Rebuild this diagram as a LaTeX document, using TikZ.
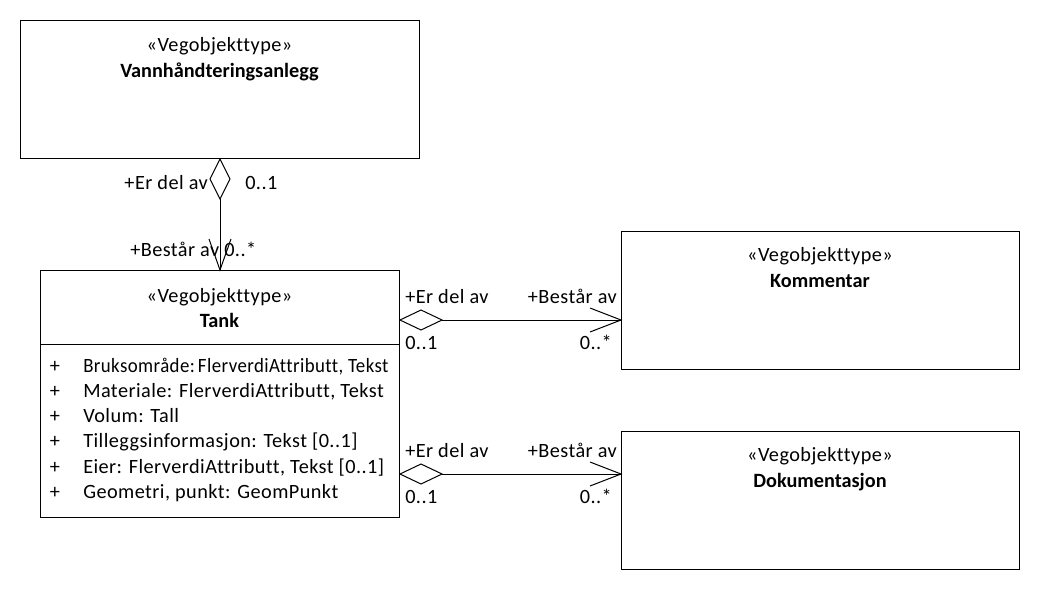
\documentclass[tikz,border=0pt]{standalone}
\usepackage{fontspec}
\setmainfont{Carlito}[LetterSpace=2.2,Ligatures={NoCommon},BoldFeatures={LetterSpace=0}]
\usetikzlibrary{calc}
\begin{document}
\begin{tikzpicture}[x=0.75pt,y=-0.75pt,
  every node/.style={font=\fontsize{15.2}{17}\selectfont, inner sep=0pt},
  box/.style={draw, line width=0.75pt, anchor=north west},
  lbl/.style={anchor=base},
  conn/.style={line width=0.75pt},
]
\useasboundingbox (0,0) rectangle (1040,590);
% boxes
\node[box, minimum width=399*0.75pt, minimum height=138*0.75pt] (vann) at (20,20) {};
\node[box, minimum width=359*0.75pt, minimum height=247*0.75pt] (tank) at (40,270) {};
\node[box, minimum width=398*0.75pt, minimum height=138*0.75pt] (komm) at (621,231) {};
\node[box, minimum width=398*0.75pt, minimum height=138*0.75pt] (doku) at (621,431) {};
\draw[conn] (tank.west |- 0,344) coordinate (sepl) -- (tank.east |- 0,344) coordinate (sepr);
% titles
\node[lbl] (vs) at (219.5,51) {«Vegobjekttype»};
\node[lbl] (vn) at (219.5,77) {\bfseries Vannhåndteringsanlegg};
\node[lbl] (ts) at (219.5,302) {«Vegobjekttype»};
\node[lbl] (tn) at (219.5,327) {\bfseries Tank};
\node[lbl] (ks) at (820,261) {«Vegobjekttype»};
\node[lbl] (kn) at (820,287) {\bfseries Kommentar};
\node[lbl] (ds) at (820,461) {«Vegobjekttype»};
\node[lbl] (dn) at (820,487) {\bfseries Dokumentasjon};
% attributes
\foreach \t [count=\i] in {{\scalebox{0.93}[1]{Bruksområde:\,FlerverdiAttributt, Tekst}},{Materiale: FlerverdiAttributt, Tekst},{Volum: Tall},{Tilleggsinformasjon: Tekst [0..1]},{Eier: FlerverdiAttributt, Tekst [0..1]},{Geometri, punkt: GeomPunkt}}{
  \node[anchor=base] (p\i) at (55,372+25.3*\i-25.3) {+};
  \node[anchor=base west] (a\i) at (83,372+25.3*\i-25.3) {\t};
}
% vertical aggregation
\coordinate (dv) at (vann.south);
\draw[conn] (dv) -- ++(10,20) -- ++(-10,20) coordinate (dvb) -- ++(-10,-20) -- cycle;
\draw[conn] (dvb) -- (tank.north);
\draw[conn] ($(tank.north)+(-11,-31)$) -- (tank.north) -- ($(tank.north)+(11,-31)$);
\node[anchor=base east] (l1) at (208,189) {+Er del av};
\node[anchor=base west] (l2) at (245,189) {0..1};
\node[anchor=base west] (l3) at (130,256) {+Består av};
\node[anchor=base west] (l4) at (224,256) {0..*};
% horizontal aggregations
\foreach \y/\n/\tg in {320/k/komm,474/d/doku}{
  \coordinate (s\n) at (tank.east |- 0,\y);
  \coordinate (e\n) at (\tg.west |- 0,\y);
  \draw[conn] (s\n) -- ++(21,-10) -- ++(21,10) coordinate (m\n) -- ++(-21,10) -- cycle;
  \draw[conn] (m\n) -- (e\n);
  \draw[conn] ($(e\n)+(-31,-12)$) -- (e\n) -- ($(e\n)+(-31,12)$);
  \node[anchor=base west] (r1\n) at (405,\y-17) {+Er del av};
  \node[anchor=base east] (r2\n) at (617,\y-17) {+Består av};
  \node[anchor=base west] (r3\n) at (405,\y+29) {0..1};
  \node[anchor=base east] (r4\n) at (612,\y+29) {0..*};
}
\end{tikzpicture}
\end{document}
